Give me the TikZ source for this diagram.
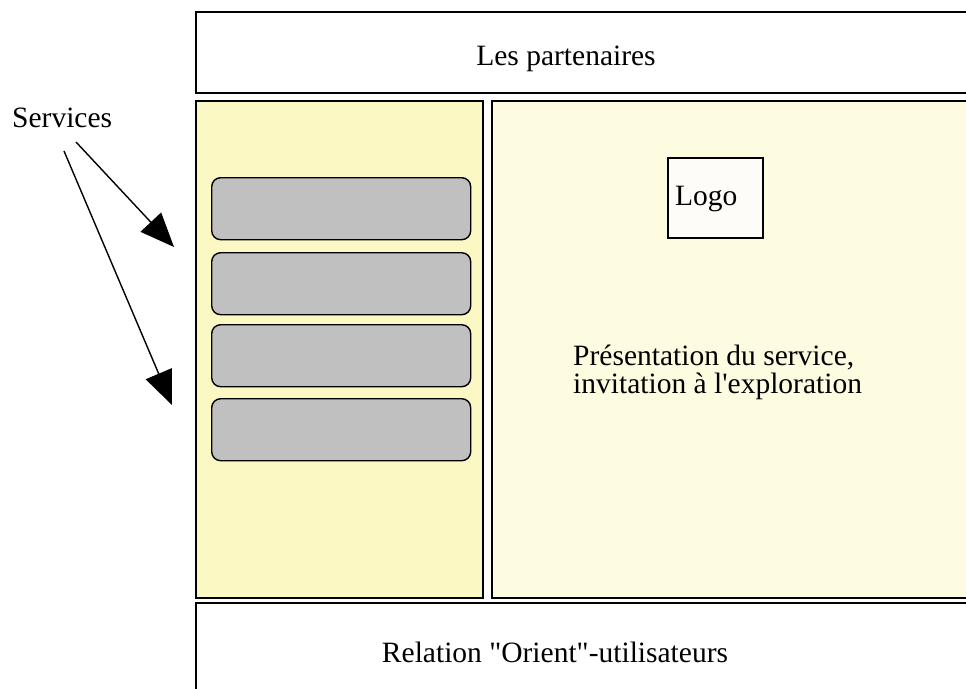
\documentclass[tikz,border=0pt]{standalone}
\usepackage{fontspec}
\setmainfont{Liberation Serif}[Ligatures=TeXOff]
\usetikzlibrary{arrows.meta}
\definecolor{leftyellow}{HTML}{FCF8C4}
\definecolor{rightyellow}{HTML}{FDFBE0}
\definecolor{btngray}{HTML}{C0C0C0}
\definecolor{logofill}{HTML}{FDFCF8}
\tikzset{
  panel/.style={draw=black, line width=1.6pt},
  btn/.style={draw=black, line width=1.4pt, fill=btngray, rounded corners=9pt},
  lbl/.style={font=\fontsize{29.5}{35}\selectfont, inner sep=0pt, anchor=base west},
  arr/.style={line width=1.4pt, -{Triangle[length=34pt,width=28pt]}}
}
\begin{document}
\begin{tikzpicture}[x=1pt,y=-1pt]
\useasboundingbox (0,0) rectangle (966,688);
% top box (extends past right edge)
\draw[panel] (1000,12) -- (196,12) -- (196,93) -- (1000,93);
% left yellow panel
\draw[panel, fill=leftyellow] (196,101) rectangle (483,598);
% right panel
\draw[panel, fill=rightyellow] (1000,101) -- (492,101) -- (492,598) -- (1000,598);
% bottom box
\draw[panel] (1000,603) -- (196,603) -- (196,700);
% buttons
\node[btn, minimum width=259pt, minimum height=62pt, anchor=north west] (b1) at (211,177) {};
\node[btn, minimum width=259pt, minimum height=62pt, anchor=north west] (b2) at (211,252) {};
\node[btn, minimum width=259pt, minimum height=62pt, anchor=north west] (b3) at (211,324) {};
\node[btn, minimum width=259pt, minimum height=62pt, anchor=north west] (b4) at (211,398) {};
% logo
\draw[line width=1.4pt, fill=logofill] (668,158) rectangle (763,238);
\node[lbl] (logo) at (675,205) {Logo};
% texts
\node[lbl, anchor=base] (part) at (566,65) {Les partenaires};
\node[lbl, anchor=base] (rel) at (555,662) {Relation "Orient"-utilisateurs};
\node[lbl] (pres1) at (573,365) {Présentation du service,};
\node[lbl] (pres2) at (573,393) {invitation à l'exploration};
\node[lbl] (serv) at (12,127) {Services};
% arrows
\coordinate (s1) at (76,142);
\coordinate (s2) at (64,151);
\coordinate (t1) at (174,247);
\coordinate (t2) at (172,405);
\draw[arr] (s1) -- (t1);
\draw[arr] (s2) -- (t2);
\end{tikzpicture}
\end{document}
